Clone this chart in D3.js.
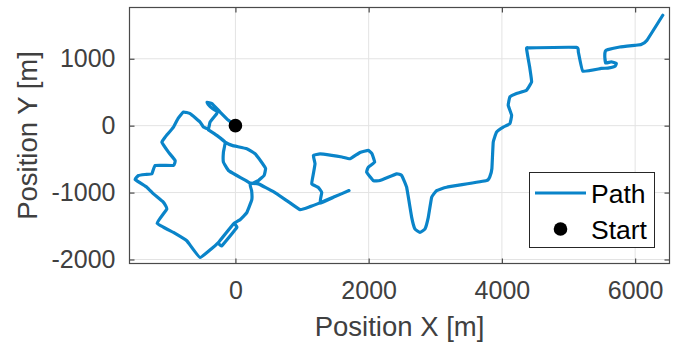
<!DOCTYPE html>
<html>
<head>
<meta charset="utf-8">
<script src="https://cdn.jsdelivr.net/npm/d3@7"></script>
<style>
  body { margin: 0; background: #fff; }
  svg { display: block; font-family: "Liberation Sans", Arial, Helvetica, sans-serif; }
</style>
</head>
<body>
<div id="container"></div>
<script>
// recorrido (m)
var pathX = [0,-105,-230,-354,-425,-405,-350,-275,-280,-380,
	-405,-480,-530,-680,-780,-860,-930,-1055,-1104,-1005,
	-905,-930,-1205,-1254,-1355,-1455,-1505,-1330,-1230,-1080,
	-1030,-1175,-930,-730,-530,-252,-30,21,-204,-252,
	-30,70,171,246,243,220,345,430,453,385,
	295,171,-50,-155,-280,-405,-280,-155,-180,-180,
	-105,21,146,220,345,570,771,970,1120,1240,
	1495,1705,1495,1270,1296,1245,1146,1170,1195,1170,
	1270,1446,1600,1720,1870,1995,2050,2090,1995,1970,
	2070,2170,2420,2496,2570,2646,2695,2770,2845,2895,
	2946,3020,3170,3770,3820,3850,3870,3920,4020,4120,
	4146,4095,4120,4220,4370,4446,4420,4370,4420,5120,
	5148,5215,5490,5590,5695,5718,5640,5560,5545,5553,
	5590,5770,5995,6090,6175,6415];
var pathY = [0,80,204,330,350,312,260,215,180,54,
	-48,-21,54,180,204,110,-21,-171,-246,-396,
	-520,-595,-595,-720,-730,-745,-805,-920,-1020,-1146,
	-1245,-1458,-1596,-1720,-1970,-1743,-1470,-1521,-1795,-1743,
	-1470,-1405,-1300,-1105,-970,-880,-820,-745,-640,-535,
	-420,-345,-295,-246,-145,-63,-145,-246,-396,-546,
	-670,-745,-813,-858,-870,-985,-1120,-1255,-1210,-1165,
	-1060,-970,-1060,-1158,-1000,-925,-870,-720,-570,-445,
	-423,-445,-468,-495,-400,-370,-420,-546,-621,-696,
	-820,-820,-720,-745,-920,-1370,-1545,-1596,-1545,-1370,
	-1070,-970,-920,-820,-760,-640,-246,-96,-21,30,
	155,305,430,480,530,655,855,1155,1164,1170,
	1100,815,855,860,885,930,955,935,1025,1115,
	1137,1175,1200,1212,1272,1650];
var startX = [0];
var startY = [0];

var xTicks = [0, 2000, 4000, 6000];
var yTicks = [-2000, -1000, 0, 1000];
var xDomain = [-1590, 6516];
var yDomain = [-2060, 1766];
var seriesNames = ["Path", "Start"];
var xLabel = "Position X [m]";
var yLabel = "Position Y [m]";

var W = 678, H = 345;
var mLeft = 129.5, mRight = 669.5, mTop = 7.5, mBottom = 263.5;
var blue = "#0a84c9";

var svg = d3.select("#container").append("svg")
	.attr("width", W)
	.attr("height", H);

var x = d3.scaleLinear().domain(xDomain).range([mLeft, mRight]);
var y = d3.scaleLinear().domain(yDomain).range([mBottom, mTop]);
// guion normal como en matlab
var fmt = function(d){ return String(d); };

// grid
svg.append("g").selectAll("line")
	.data(xTicks).enter().append("line")
	.attr("x1", function(d){ return x(d); }).attr("x2", function(d){ return x(d); })
	.attr("y1", mTop).attr("y2", mBottom)
	.attr("stroke", "#e3e3e3").attr("stroke-width", 1);
svg.append("g").selectAll("line")
	.data(yTicks).enter().append("line")
	.attr("y1", function(d){ return y(d); }).attr("y2", function(d){ return y(d); })
	.attr("x1", mLeft).attr("x2", mRight)
	.attr("stroke", "#e3e3e3").attr("stroke-width", 1);

// ejes con ticks hacia adentro
var axisColor = "#4a4a4a";
function styleAxis(g){
	g.select(".domain").remove();
	g.selectAll(".tick line").attr("stroke", axisColor).attr("stroke-width", 1.2);
	g.selectAll(".tick text").attr("fill", "#404040").attr("font-size", "25px")
		.attr("font-family", "'Liberation Sans', Arial, sans-serif");
}
svg.append("g").attr("transform", "translate(0," + mBottom + ")")
	.call(d3.axisBottom(x).tickValues(xTicks).tickFormat(fmt).tickSizeInner(-5).tickSizeOuter(0).tickPadding(18))
	.call(styleAxis);
svg.append("g").attr("transform", "translate(0," + mTop + ")")
	.call(d3.axisTop(x).tickValues(xTicks).tickSizeInner(-5).tickSizeOuter(0).tickFormat(""))
	.call(styleAxis);
svg.append("g").attr("transform", "translate(" + mLeft + ",0)")
	.call(d3.axisLeft(y).tickValues(yTicks).tickFormat(fmt).tickSizeInner(-5).tickSizeOuter(0).tickPadding(14))
	.call(styleAxis);
svg.append("g").attr("transform", "translate(" + mRight + ",0)")
	.call(d3.axisRight(y).tickValues(yTicks).tickSizeInner(-5).tickSizeOuter(0).tickFormat(""))
	.call(styleAxis);

// recorte
svg.append("clipPath").attr("id", "clip").append("rect")
	.attr("x", mLeft).attr("y", mTop).attr("width", mRight - mLeft).attr("height", mBottom - mTop);

var pts = pathX.map(function(v, i){ return [v, pathY[i]]; });
var line = d3.line()
	.curve(d3.curveCardinal.tension(0.7))
	.x(function(d){ return x(d[0]); })
	.y(function(d){ return y(d[1]); });

svg.append("path")
	.datum(pts)
	.attr("clip-path", "url(#clip)")
	.attr("d", line)
	.attr("fill", "none")
	.attr("stroke", blue)
	.attr("stroke-width", 3.2)
	.attr("stroke-linejoin", "round")
	.attr("stroke-linecap", "round");

svg.selectAll("circle.start")
	.data(startX).enter().append("circle")
	.attr("class", "start")
	.attr("cx", function(d){ return x(d); })
	.attr("cy", function(d, i){ return y(startY[i]); })
	.attr("r", 6.8)
	.attr("fill", "#000");

// marco
svg.append("rect")
	.attr("x", mLeft).attr("y", mTop)
	.attr("width", mRight - mLeft).attr("height", mBottom - mTop)
	.attr("fill", "none").attr("stroke", axisColor).attr("stroke-width", 1.2);

// etiquetas
svg.append("text")
	.attr("x", (mLeft + mRight) / 2).attr("y", 336)
	.attr("text-anchor", "middle")
	.attr("font-size", "27.5px").attr("fill", "#404040")
	.text(xLabel);
svg.append("text")
	.attr("transform", "translate(37," + (mTop + mBottom) / 2 + ") rotate(-90)")
	.attr("text-anchor", "middle")
	.attr("font-size", "27.5px").attr("fill", "#404040")
	.text(yLabel);

// leyenda
var lg = svg.append("g");
lg.append("rect")
	.attr("x", 529.5).attr("y", 172.5).attr("width", 125).attr("height", 75)
	.attr("fill", "#fff").attr("stroke", "#262626").attr("stroke-width", 1);
lg.append("line")
	.attr("x1", 535).attr("x2", 586).attr("y1", 193).attr("y2", 193)
	.attr("stroke", blue).attr("stroke-width", 3.2);
lg.append("circle")
	.attr("cx", 560.5).attr("cy", 229).attr("r", 6.8).attr("fill", "#000");
lg.selectAll("text")
	.data(seriesNames).enter().append("text")
	.attr("x", 591)
	.attr("y", function(d, i){ return 203 + i * 36; })
	.attr("font-size", "26.5px").attr("fill", "#000")
	.text(function(d){ return d; });
</script>
</body>
</html>
